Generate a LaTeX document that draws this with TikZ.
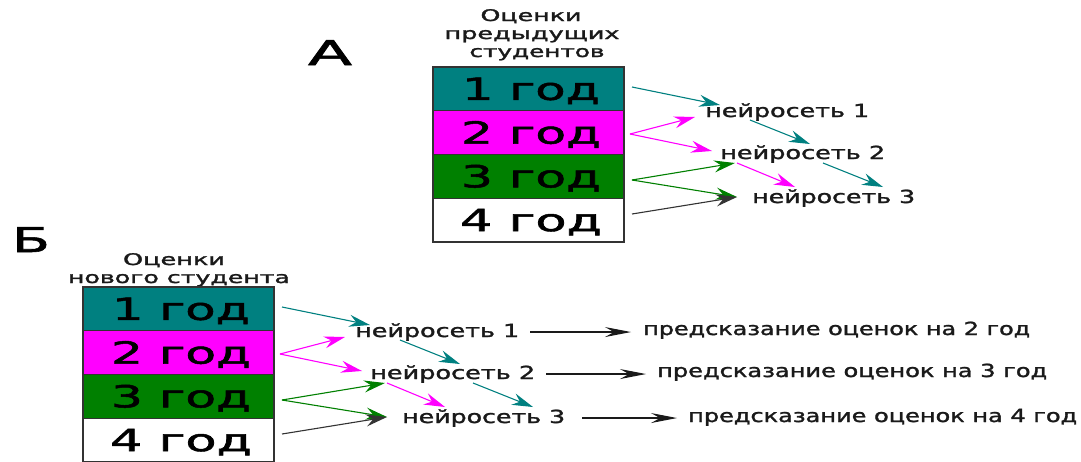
\documentclass[tikz,border=0pt]{standalone}
\usepackage{fontspec}
\setmainfont{DejaVu Sans}[BoldFont={DejaVu Sans}, BoldFeatures={FakeBold=1.5}]
\usetikzlibrary{arrows.meta}
\definecolor{cteal}{HTML}{008080}
\definecolor{cmag}{HTML}{FF00FF}
\definecolor{cgreen}{HTML}{008000}
\definecolor{cdark}{HTML}{333333}
\definecolor{ctext}{HTML}{1A1A1A}
\newcommand\fw[2]{\resizebox{#1}{\height}{#2}}
\tikzset{
  row/.style={draw=cdark, line width=1.2pt, minimum width=191pt, minimum height=43.75pt,
    inner sep=0pt, text height=22pt, text depth=0pt, font=\fontsize{30.5}{30.5}\selectfont\bfseries},
  net/.style={anchor=base west, inner sep=0pt, font=\fontsize{18}{18}\selectfont\bfseries, text=ctext},
  ttl/.style={anchor=base, inner sep=0pt, font=\fontsize{16}{16}\selectfont\bfseries, text=ctext},
  letter/.style={anchor=base, inner sep=0pt, font=\fontsize{34}{34}\selectfont\bfseries},
  carr/.style={line width=1.1pt, -{Stealth[length=21pt,width=12pt,inset=7pt]}},
  karr/.style={line width=1.1pt, draw=ctext, -{Stealth[length=26pt,width=10pt,inset=9pt]}},
}
\newcommand\netpart[1]{%
  \node[row, fill=cteal]  (#1r1) at (528.5,88.875)  {\hspace*{5pt}\fw{138pt}{1 год}};
  \node[row, fill=cmag]   (#1r2) at (528.5,132.625) {\hspace*{5pt}\fw{140pt}{2 год}};
  \node[row, fill=cgreen] (#1r3) at (528.5,176.375) {\hspace*{5pt}\fw{140pt}{3 год}};
  \node[row, fill=white]  (#1r4) at (528.5,220.125) {\hspace*{5pt}\fw{142pt}{4 год}};
  \node[net] (#1n1) at (705,117) {\fw{164pt}{нейросеть 1}};
  \node[net] (#1n2) at (720,159) {\fw{165pt}{нейросеть 2}};
  \node[net] (#1n3) at (752,203) {\fw{163pt}{нейросеть 3}};
  \coordinate (#1s1) at (632,87);
  \coordinate (#1e1) at (720,105);
  \coordinate (#1s2) at (630,134);
  \coordinate (#1e2a) at (695,117);
  \coordinate (#1e2b) at (712,151);
  \coordinate (#1s12) at (750,120);
  \coordinate (#1e12) at (810,144);
  \coordinate (#1s3) at (632,180);
  \coordinate (#1e3a) at (735,163);
  \coordinate (#1e3b) at (737,197);
  \coordinate (#1sm23) at (737,163);
  \coordinate (#1em23) at (795,187);
  \coordinate (#1st23) at (823,163);
  \coordinate (#1et23) at (883,187);
  \coordinate (#1s4) at (632,214);
  \draw[carr, cteal] (#1s1) -- (#1e1);
  \draw[carr, cmag] (#1s2) -- (#1e2a);
  \draw[carr, cmag] (#1s2) -- (#1e2b);
  \draw[carr, cteal] (#1s12) -- (#1e12);
  \draw[carr, cgreen] (#1s3) -- (#1e3a);
  \draw[carr, cgreen] (#1s3) -- (#1e3b);
  \draw[carr, cmag] (#1sm23) -- (#1em23);
  \draw[carr, cteal] (#1st23) -- (#1et23);
  \draw[carr, cdark] (#1s4) -- (#1e3b);
}
\begin{document}
\begin{tikzpicture}[x=1pt,y=-1pt]
\useasboundingbox (0,0) rectangle (1081,461);
\fill[white] (0,0) rectangle (1081,461);
% part A
\node[letter] (la) at (330,65) {\fw{44pt}{А}};
\node[ttl] (ta1) at (531,21) {\fw{101pt}{Оценки}};
\node[ttl] (ta2) at (532,39) {\fw{175pt}{предыдущих}};
\node[ttl] (ta3) at (537,57) {\fw{135pt}{студентов}};
\netpart{a}
% part B
\node[letter] (lb) at (31,252) {\fw{38pt}{Б}};
\node[ttl] (tb1) at (174,265) {\fw{102pt}{Оценки}};
\node[ttl] (tb2) at (179,283) {\fw{222pt}{нового студента}};
\begin{scope}[shift={(-350,220)}]
\netpart{b}
\end{scope}
\node[net] (p1) at (643,335) {\fw{387pt}{предсказание оценок на 2 год}};
\node[net] (p2) at (657,377) {\fw{390pt}{предсказание оценок на 3 год}};
\node[net] (p3) at (688,422) {\fw{389pt}{предсказание оценок на 4 год}};
\draw[karr] ([xshift=11pt]bn1.east) -- ([xshift=-12pt]bn1.east -| p1.west);
\draw[karr] ([xshift=11pt]bn2.east) -- ([xshift=-11pt]bn2.east -| p2.west);
\draw[karr] ([xshift=17pt]bn3.east) -- ([xshift=-11pt]bn3.east -| p3.west);
\end{tikzpicture}
\end{document}
